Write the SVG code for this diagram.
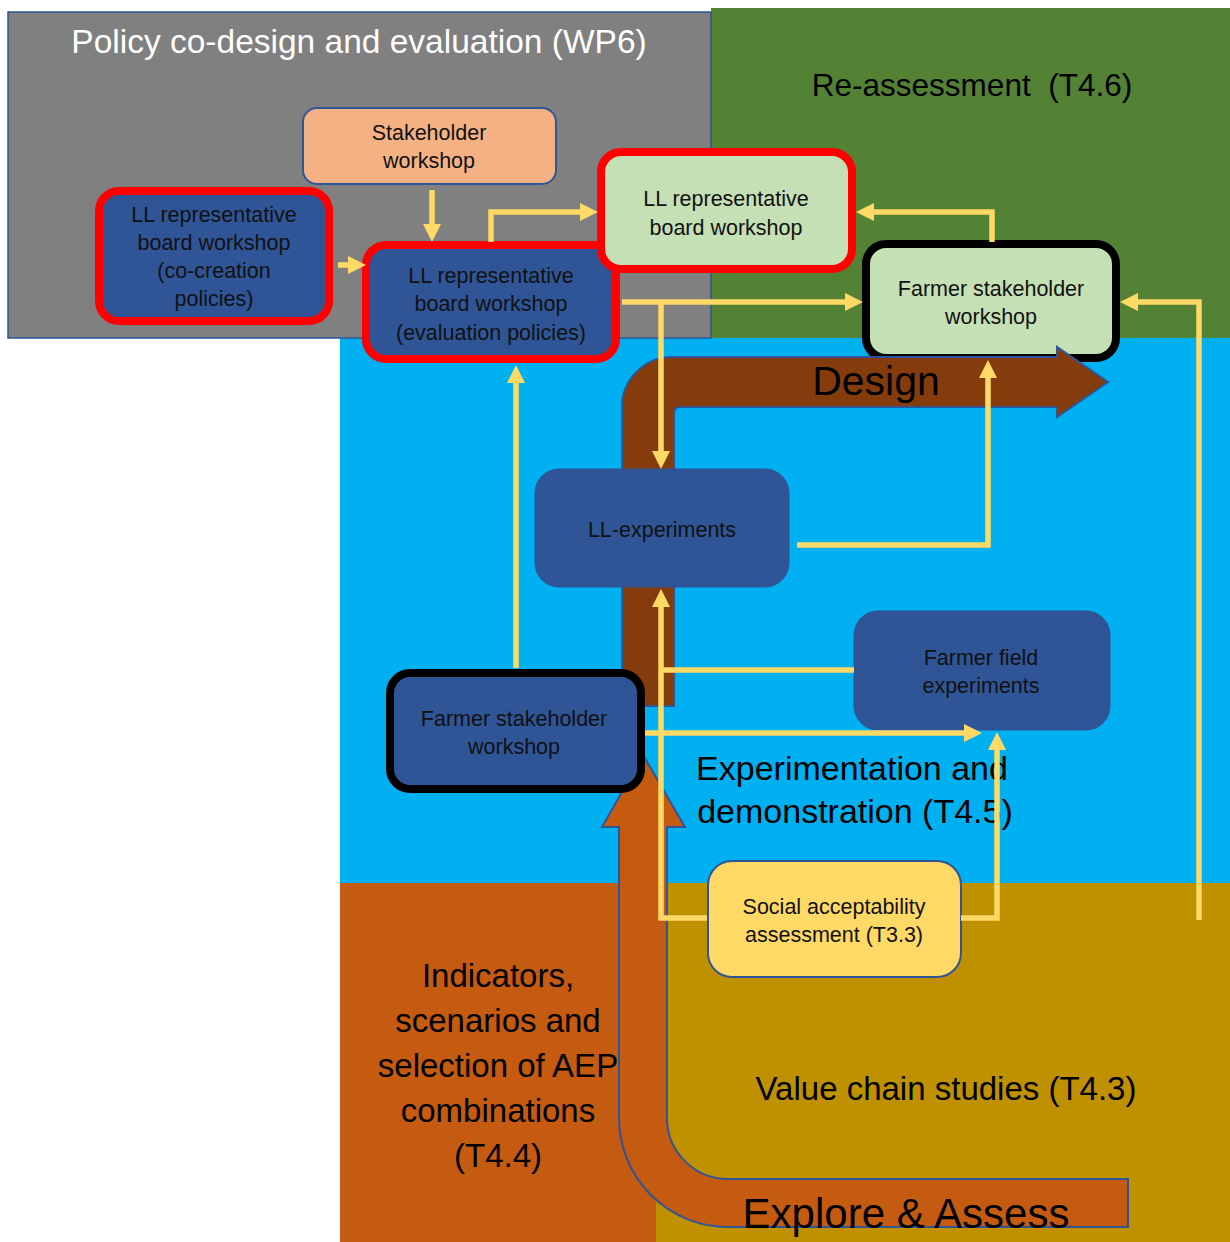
<svg xmlns="http://www.w3.org/2000/svg" width="1230" height="1242" viewBox="0 0 1230 1242">
<style>
text{font-family:"Liberation Sans",Arial,sans-serif;}
.big{font-size:33px;fill:#000;text-anchor:middle;}
.node{font-size:21.5px;fill:#111;text-anchor:middle;}
.bluebox{fill:#2F5597;}
.greenbox{fill:#C5E0B4;}
.red{stroke:#FF0000;stroke-width:8;}
.black{stroke:#000;stroke-width:8;}
.thin{stroke:#2F5597;stroke-width:2;}
.conn{fill:none;stroke:#FFD966;stroke-width:5.5;stroke-linejoin:miter;}
.arrowshape{stroke:#2F5597;stroke-width:2;}
</style>
<defs>
<marker id="ah" viewBox="0 0 18 18" markerWidth="18" markerHeight="18" markerUnits="userSpaceOnUse" refX="1" refY="9" orient="auto">
<path d="M0,0 L18,9 L0,18 z" fill="#FFD966"/>
</marker>
</defs>
<rect width="1230" height="1242" fill="#FFFFFF"/>
<g id="backgrounds">
<rect x="711" y="8" width="519" height="331" fill="#548235"/>
<rect x="340" y="338" width="890" height="546" fill="#00B0F0"/>
<rect x="340" y="883" width="316" height="359" fill="#C55A11"/>
<rect x="656" y="883" width="574" height="359" fill="#BF9000"/>
<rect x="8" y="12" width="703" height="326" fill="#808080" stroke="#2F5597" stroke-width="1.5"/>
</g>
<g id="region-titles">
<text x="359" y="53" style="font-size:33.5px;fill:#FFFFFF;text-anchor:middle">Policy co-design and evaluation (WP6)</text>
<text x="972" y="96" style="font-size:31.5px;fill:#000;text-anchor:middle">Re-assessment&#160; (T4.6)</text>
</g>
<g id="node-farmer-stakeholder-workshop-top">
<rect x="866" y="244" width="250" height="114" rx="20" class="greenbox black"/>
<text class="node" x="991" y="296">Farmer stakeholder</text>
<text class="node" x="991" y="324">workshop</text>
</g>
<g id="design-arrow">
<path class="arrowshape" fill="#843C0C" d="M622,706 L622,407 A50,50 0 0 1 672,357 L1057,357 L1057,347 L1108,382 L1057,417 L1057,407 L680,407 Q674,407 674,413 L674,706 Z"/>
<text x="876" y="395" style="font-size:41px;fill:#000;text-anchor:middle">Design</text>
</g>
<g id="explore-arrow">
<path class="arrowshape" fill="#C55A11" d="M1128,1179 L728,1179 A61,61 0 0 1 667,1118 L667,827 L685,827 L643,755 L602,827 L619,827 L619,1118 A109,109 0 0 0 728,1227 L1128,1227 Z"/>
</g>
<g id="region-labels">
<text class="big" x="852" y="780" style="font-size:34px">Experimentation and</text>
<text class="big" x="855" y="823" style="font-size:34px">demonstration (T4.5)</text>
<text class="big" x="498" y="987">Indicators,</text>
<text class="big" x="498" y="1032">scenarios and</text>
<text class="big" x="498" y="1077">selection of AEP</text>
<text class="big" x="498" y="1122">combinations</text>
<text class="big" x="498" y="1167">(T4.4)</text>
<text class="big" x="946" y="1100">Value chain studies (T4.3)</text>
<text x="906" y="1228" style="font-size:42px;fill:#000;text-anchor:middle">Explore &amp; Assess</text>
</g>
<g id="node-stakeholder-workshop">
<rect x="303" y="108" width="253" height="76" rx="14" fill="#F4B183" class="thin"/>
<text class="node" x="429" y="140">Stakeholder</text>
<text class="node" x="429" y="168">workshop</text>
</g>
<g id="node-ll-board-cocreation">
<rect x="99" y="191" width="230" height="130" rx="20" class="bluebox red"/>
<text class="node" x="214" y="222">LL representative</text>
<text class="node" x="214" y="250">board workshop</text>
<text class="node" x="214" y="278">(co-creation</text>
<text class="node" x="214" y="306">policies)</text>
</g>
<g id="node-ll-board-evaluation">
<rect x="366" y="245" width="250" height="114" rx="20" class="bluebox red"/>
<text class="node" x="491" y="283">LL representative</text>
<text class="node" x="491" y="311">board workshop</text>
<text class="node" x="491" y="340">(evaluation policies)</text>
</g>
<g id="node-ll-board-reassessment">
<rect x="601" y="152" width="251" height="117" rx="20" class="greenbox red"/>
<text class="node" x="726" y="206">LL representative</text>
<text class="node" x="726" y="235">board workshop</text>
</g>
<g id="node-ll-experiments">
<rect x="535" y="469" width="254" height="118" rx="24" class="bluebox" stroke="#2F5597" stroke-width="1"/>
<text class="node" x="662" y="537">LL-experiments</text>
</g>
<g id="node-farmer-field-experiments">
<rect x="854" y="611" width="256" height="119" rx="24" class="bluebox" stroke="#2F5597" stroke-width="1"/>
<text class="node" x="981" y="665">Farmer field</text>
<text class="node" x="981" y="693">experiments</text>
</g>
<g id="node-farmer-stakeholder-workshop-bottom">
<rect x="390" y="673" width="251" height="116" rx="20" class="bluebox black"/>
<text class="node" x="514" y="726">Farmer stakeholder</text>
<text class="node" x="514" y="754">workshop</text>
</g>
<g id="node-social-acceptability">
<rect x="708" y="861" width="253" height="116" rx="24" fill="#FFD966" class="thin"/>
<text class="node" x="834" y="914">Social acceptability</text>
<text class="node" x="834" y="942">assessment (T3.3)</text>
</g>
<g id="connectors">
<path class="conn" d="M432,190 L432,225" marker-end="url(#ah)"/>
<path class="conn" d="M338,265 L349,265" marker-end="url(#ah)"/>
<path class="conn" d="M491,242 L491,212 L581,212" marker-end="url(#ah)"/>
<path class="conn" d="M622,302 L846,302" marker-end="url(#ah)"/>
<path class="conn" d="M661,302 L661,452" marker-end="url(#ah)"/>
<path class="conn" d="M992,242 L992,212 L873,212" marker-end="url(#ah)"/>
<path class="conn" d="M1199,920 L1199,302 L1137,302" marker-end="url(#ah)"/>
<path class="conn" d="M797,545 L988,545 L988,377" marker-end="url(#ah)"/>
<path class="conn" d="M516,668 L516,382" marker-end="url(#ah)"/>
<path class="conn" d="M707,918 L661,918 L661,606" marker-end="url(#ah)"/>
<path class="conn" d="M854,670 L661,670"/>
<path class="conn" d="M645,733 L965,733" marker-end="url(#ah)"/>
<path class="conn" d="M961,918 L997,918 L997,749" marker-end="url(#ah)"/>
</g>
</svg>
